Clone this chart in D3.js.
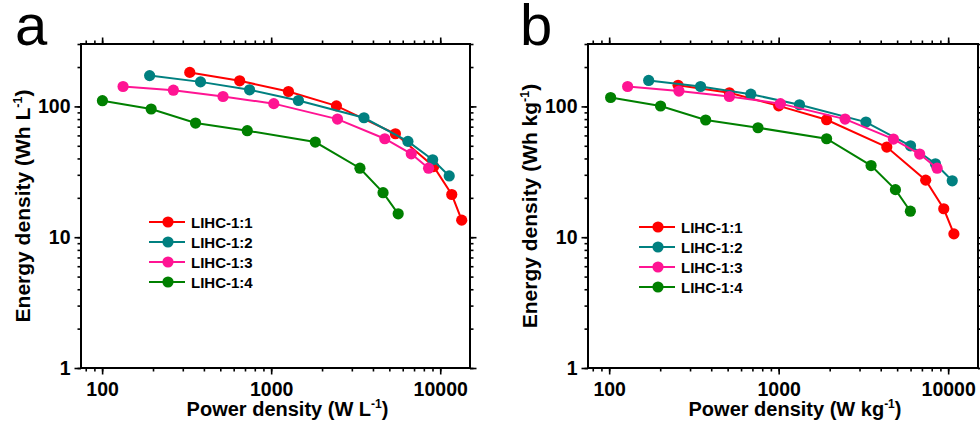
<!DOCTYPE html>
<html>
<head>
<meta charset="utf-8">
<script src="https://cdn.jsdelivr.net/npm/d3@7"></script>
<style>
  html, body { margin: 0; padding: 0; background: #fff; }
  svg { display: block; }
  text { font-family: Arial, "Liberation Sans", sans-serif; }
</style>
</head>
<body>
<svg id="chart" width="980" height="430"></svg>
<script>
// ---------- data ----------
const seriesNames = ["LIHC-1:1", "LIHC-1:2", "LIHC-1:3", "LIHC-1:4"];
const seriesColors = ["#ff0000", "#008080", "#ff1493", "#008000"];

// Panel a: volumetric (W L-1, Wh L-1)
const aPower11 = [330, 651, 1265, 2432, 5430, 9140, 11700, 13400];
const aEnergy11 = [182, 157, 130, 101, 61.8, 34.7, 21.2, 13.5];
const aPower12 = [191, 382, 745, 1449, 3540, 6440, 9020, 11300];
const aEnergy12 = [172, 154, 134, 111, 81.9, 54, 39.1, 29.4];
const aPower13 = [133, 264, 519, 1036, 2466, 4700, 6740, 8530];
const aEnergy13 = [142, 133, 119, 105, 80, 56.6, 43.4, 33.7];
const aPower14 = [100.4, 195, 357, 722, 1823, 3350, 4590, 5640];
const aEnergy14 = [110.6, 95.5, 74.6, 65.2, 53.4, 33.7, 21.9, 15.1];

// Panel b: gravimetric (W kg-1, Wh kg-1)
const bPower11 = [255, 512, 1000, 1918, 4345, 7370, 9420, 10810];
const bEnergy11 = [145, 127, 101, 79.1, 48.9, 27.3, 16.5, 10.6];
const bPower12 = [171, 346, 685, 1327, 3274, 5996, 8410, 10570];
const bEnergy12 = [158, 142, 124, 103, 75.9, 50, 36.4, 27];
const bPower13 = [128.5, 258, 512, 1024, 2466, 4754, 6790, 8610];
const bEnergy13 = [142, 131, 119, 105, 80, 56.3, 43.2, 33.7];
const bPower14 = [102, 201, 371, 755, 1918, 3510, 4886, 5984];
const bEnergy14 = [117, 100.7, 78.7, 68.7, 56.6, 35.3, 23.1, 15.8];

const xMajorTicks = [100, 1000, 10000];
const yMajorTicks = [1, 10, 100];
const xDomain = [75, 15000];
const yDomain = [1, 300];

// ---------- drawing ----------
const svg = d3.select("#chart");

const panels = [
  {
    letter: "a", letterX: 15, left: 81, right: 470,
    xUnit: "W L", yUnit: "Wh L",
    powers: [aPower11, aPower12, aPower13, aPower14],
    energies: [aEnergy11, aEnergy12, aEnergy13, aEnergy14],
    legX: 149, legY: 222
  },
  {
    letter: "b", letterX: 520, left: 588, right: 978,
    xUnit: "W kg", yUnit: "Wh kg",
    powers: [bPower11, bPower12, bPower13, bPower14],
    energies: [bEnergy11, bEnergy12, bEnergy13, bEnergy14],
    legX: 639, legY: 227
  }
];

const plotTop = 44, plotBottom = 368;

function minorTicks(domain) {
  const t = [];
  for (let e = -1; e <= 6; e++) {
    for (let m = 1; m <= 9; m++) {
      const v = m * Math.pow(10, e);
      if (v >= domain[0] && v <= domain[1]) t.push(v);
    }
  }
  return t;
}

panels.forEach(p => {
  const g = svg.append("g");
  const x = d3.scaleLog().domain(xDomain).range([p.left, p.right]);
  const y = d3.scaleLog().domain(yDomain).range([plotBottom, plotTop]);

  const xMinor = minorTicks(xDomain);
  const yMinor = minorTicks(yDomain);

  const styleAxis = sel => {
    sel.select(".domain").remove();
    sel.selectAll("line").attr("stroke", "#000").attr("stroke-width", 1.6);
  };

  // minor ticks (all four sides)
  g.append("g").attr("transform", `translate(0,${plotBottom})`)
    .call(d3.axisBottom(x).tickValues(xMinor).tickSize(3.5).tickFormat("")).call(styleAxis);
  g.append("g").attr("transform", `translate(0,${plotTop})`)
    .call(d3.axisTop(x).tickValues(xMinor).tickSize(3.5).tickFormat("")).call(styleAxis);
  g.append("g").attr("transform", `translate(${p.left},0)`)
    .call(d3.axisLeft(y).tickValues(yMinor).tickSize(3.5).tickFormat("")).call(styleAxis);
  g.append("g").attr("transform", `translate(${p.right},0)`)
    .call(d3.axisRight(y).tickValues(yMinor).tickSize(3.5).tickFormat("")).call(styleAxis);

  // major ticks
  const xb = g.append("g").attr("transform", `translate(0,${plotBottom})`)
    .call(d3.axisBottom(x).tickValues(xMajorTicks).tickSize(6.5).tickPadding(8).tickFormat(d3.format("d")))
    .call(styleAxis);
  xb.selectAll("text").attr("font-size", 19.5).attr("font-weight", "bold").attr("fill", "#000");
  g.append("g").attr("transform", `translate(0,${plotTop})`)
    .call(d3.axisTop(x).tickValues(xMajorTicks).tickSize(6.5).tickFormat("")).call(styleAxis);
  const yl = g.append("g").attr("transform", `translate(${p.left},0)`)
    .call(d3.axisLeft(y).tickValues(yMajorTicks).tickSize(6.5).tickPadding(4).tickFormat(d3.format("d")))
    .call(styleAxis);
  yl.selectAll("text").attr("font-size", 19.5).attr("font-weight", "bold").attr("fill", "#000");
  g.append("g").attr("transform", `translate(${p.right},0)`)
    .call(d3.axisRight(y).tickValues(yMajorTicks).tickSize(6.5).tickFormat("")).call(styleAxis);

  // frame
  g.append("rect")
    .attr("x", p.left).attr("y", plotTop)
    .attr("width", p.right - p.left).attr("height", plotBottom - plotTop)
    .attr("fill", "none").attr("stroke", "#000").attr("stroke-width", 2);

  // series
  const line = d3.line().x(d => x(d[0])).y(d => y(d[1]));
  seriesNames.forEach((name, i) => {
    const pts = p.powers[i].map((v, k) => [v, p.energies[i][k]]);
    g.append("path").datum(pts)
      .attr("d", line).attr("fill", "none")
      .attr("stroke", seriesColors[i]).attr("stroke-width", 2);
    g.selectAll(null).data(pts).enter().append("circle")
      .attr("cx", d => x(d[0])).attr("cy", d => y(d[1]))
      .attr("r", 5.6).attr("fill", seriesColors[i]);
  });

  // legend
  seriesNames.forEach((name, i) => {
    const ly = p.legY + i * 20;
    g.append("line")
      .attr("x1", p.legX).attr("x2", p.legX + 36)
      .attr("y1", ly).attr("y2", ly)
      .attr("stroke", seriesColors[i]).attr("stroke-width", 2);
    g.append("circle")
      .attr("cx", p.legX + 19).attr("cy", ly).attr("r", 5.6)
      .attr("fill", seriesColors[i]);
    g.append("text")
      .attr("x", p.legX + 42).attr("y", ly + 5.5)
      .attr("font-size", 15).attr("font-weight", "bold").attr("fill", "#000")
      .text(name);
  });

  // x axis title
  const xt = g.append("text")
    .attr("x", (p.left + p.right) / 2 + 12).attr("y", 416)
    .attr("text-anchor", "middle")
    .attr("font-size", 20).attr("font-weight", "bold").attr("fill", "#000");
  xt.append("tspan").text("Power density (" + p.xUnit);
  xt.append("tspan").attr("font-size", 12).attr("dy", -8).text("-1");
  xt.append("tspan").attr("dy", 8).text(")");

  // y axis title
  const ytx = p.left - 51;
  const yt = g.append("text")
    .attr("transform", `translate(${ytx},${(plotTop + plotBottom) / 2}) rotate(-90)`)
    .attr("text-anchor", "middle")
    .attr("font-size", 21).attr("font-weight", "bold").attr("fill", "#000");
  yt.append("tspan").text("Energy density (" + p.yUnit);
  yt.append("tspan").attr("font-size", 12.5).attr("dy", -8).text("-1");
  yt.append("tspan").attr("dy", 8).text(")");

  // panel letter
  g.append("text")
    .attr("x", p.letterX).attr("y", 45)
    .attr("font-size", 58).attr("fill", "#000")
    .text(p.letter);
});
</script>
</body>
</html>
